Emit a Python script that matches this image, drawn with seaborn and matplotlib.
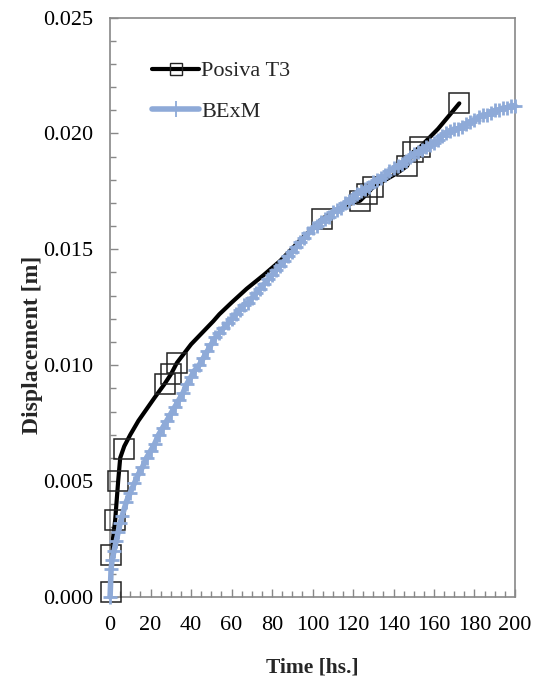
import matplotlib
matplotlib.use("Agg")
import matplotlib.pyplot as plt
from matplotlib.lines import Line2D
from matplotlib.ticker import MultipleLocator, FormatStrFormatter
import seaborn as sns
import pandas as pd

# Posiva T3 line path (hours, m)
posiva_t = [0, 0.5, 2.5, 4, 5, 7, 10, 14, 18, 22, 27, 30, 33, 40, 51, 54, 60, 67.5, 76, 84, 94,
            104.5, 110, 116, 123.5, 127, 130, 136, 142, 146.7, 149.8, 153, 162, 172.5]
posiva_d = [0.0002, 0.0018, 0.0033, 0.0050, 0.0060, 0.0065, 0.0070, 0.0076, 0.0081, 0.0086,
            0.0092, 0.0096, 0.0101, 0.0109, 0.0119, 0.0122, 0.0127, 0.0133, 0.0139, 0.0145,
            0.0154, 0.0163, 0.0166, 0.0169, 0.0171, 0.0174, 0.0177, 0.0180, 0.0183, 0.0186,
            0.0192, 0.0194, 0.0202, 0.0213]
# Posiva T3 measured points (square markers)
sq_t = [0.5, 0.5, 2.5, 4, 7, 27, 30, 33, 104.5, 123.5, 127, 130, 146.7, 149.8, 153, 172.5]
sq_d = [0.0002, 0.0018, 0.0033, 0.0050, 0.0064, 0.0092, 0.0096, 0.0101, 0.0163, 0.0171,
        0.0174, 0.0177, 0.0186, 0.0192, 0.0194, 0.0213]

# BExM model
bexm_t = [0, 0.5, 1, 2, 3, 4, 5, 6, 8, 10, 12, 14, 16, 18, 20, 22, 24, 26, 28, 30, 32, 34, 36,
          38, 40, 42, 44, 46, 48, 50, 52, 54, 56, 58, 60, 62, 64, 66, 68, 70, 72, 74, 76, 78,
          80, 82, 84, 86, 88, 90, 92, 94, 96, 98, 100, 102, 104, 106, 108, 110, 112, 114, 116,
          118, 120, 122, 124, 126, 128, 130, 132, 134, 136, 138, 140, 142, 144, 146, 148, 150,
          152, 154, 156, 158, 160, 162, 164, 166, 168, 170, 172, 174, 176, 178, 180, 182, 184,
          186, 188, 190, 192, 194, 196, 198, 200]
bexm_d = [0.0000, 0.0012, 0.0016, 0.0020, 0.0024, 0.0028, 0.0032, 0.0035, 0.0041, 0.0045,
          0.0049, 0.0053, 0.0056, 0.0060, 0.0063, 0.0066, 0.0070, 0.0073, 0.0076, 0.0079,
          0.0082, 0.0085, 0.0088, 0.0092, 0.0095, 0.0098, 0.0100, 0.0103, 0.0106, 0.0109,
          0.0112, 0.0114, 0.0116, 0.0118, 0.0120, 0.0122, 0.0124, 0.0126, 0.0127, 0.0129,
          0.0131, 0.0133, 0.0135, 0.0137, 0.0139, 0.0141, 0.0143, 0.0145, 0.0147, 0.0149,
          0.0151, 0.0153, 0.0155, 0.0157, 0.0159, 0.0160, 0.0162, 0.0163, 0.0164, 0.0166,
          0.0167, 0.0168, 0.0170, 0.0171, 0.0172, 0.0174, 0.0175, 0.0176, 0.0177, 0.0179,
          0.0180, 0.0181, 0.0182, 0.0184, 0.0185, 0.0186, 0.0187, 0.0188, 0.0190, 0.0191,
          0.0192, 0.0193, 0.0194, 0.0195, 0.0196, 0.0197, 0.0199, 0.0200, 0.0201, 0.0202,
          0.0202, 0.0203, 0.0204, 0.0205, 0.0206, 0.0207, 0.0208, 0.0208, 0.0209, 0.0210,
          0.0210, 0.0211, 0.0211, 0.0212, 0.0212]

sns.set_theme(style="white")
plt.rcParams['font.family'] = ['Liberation Serif', 'DejaVu Serif']

BLUE = '#8eaad8'
fig = plt.figure(figsize=(5.37, 6.79), dpi=100)
ax = fig.add_axes([0.205, 0.121, 0.754, 0.853])

df_line = pd.DataFrame({'t': posiva_t, 'd': posiva_d})
df_sq = pd.DataFrame({'t': sq_t, 'd': sq_d})
df_b = pd.DataFrame({'t': bexm_t, 'd': bexm_d})

sns.lineplot(data=df_line, x='t', y='d', ax=ax, color='black', lw=3, sort=False,
             estimator=None, zorder=2)
ax.plot(df_sq['t'], df_sq['d'], ls='none', marker='s', ms=14, mfc='none', mec='#222222',
        mew=1.1, zorder=3, clip_on=False)
sns.lineplot(data=df_b, x='t', y='d', ax=ax, color=BLUE, lw=4, marker='+', ms=10,
             mew=2, mec=BLUE, sort=False, estimator=None, zorder=4, clip_on=False)

ax.set_xlim(0, 200)
ax.set_ylim(0, 0.025)
ax.xaxis.set_major_locator(MultipleLocator(20))
ax.xaxis.set_minor_locator(MultipleLocator(5))
ax.yaxis.set_major_locator(MultipleLocator(0.005))
ax.yaxis.set_minor_locator(MultipleLocator(0.001))
ax.yaxis.set_major_formatter(FormatStrFormatter('%.3f'))
ax.tick_params(which='both', direction='in', color='#888888', width=1,
               labelsize=16, labelcolor='black')
ax.tick_params(axis='y', pad=12)
ax.tick_params(axis='x', pad=14)
ax.tick_params(which='major', length=6)
ax.tick_params(which='minor', length=4)
ax.tick_params(axis='x', which='both', bottom=True, top=False)
ax.tick_params(axis='y', which='both', left=True, right=False)
for s in ax.spines.values():
    s.set_color('#888888')
    s.set_linewidth(1.2)

ax.set_xlabel('Time [hs.]', fontsize=15.5, fontweight='bold', labelpad=16)
ax.set_ylabel('Displacement [m]', fontsize=17, fontweight='bold')
ax.yaxis.set_label_coords(-0.165, 0.435)

handles = [
    Line2D([], [], color='black', lw=3, marker='s', ms=9, mfc='none', mec='#222222', mew=1),
    Line2D([], [], color=BLUE, lw=4, marker='+', ms=11, mew=1.3, mec=BLUE),
]
ax.legend(handles, ['Posiva T3', 'BExM'], loc='upper left', bbox_to_anchor=(0.055, 0.96),
          frameon=False, fontsize=16, handlelength=2.1, handletextpad=0.1,
          labelspacing=0.9)

fig.savefig('out.png', dpi=100)
